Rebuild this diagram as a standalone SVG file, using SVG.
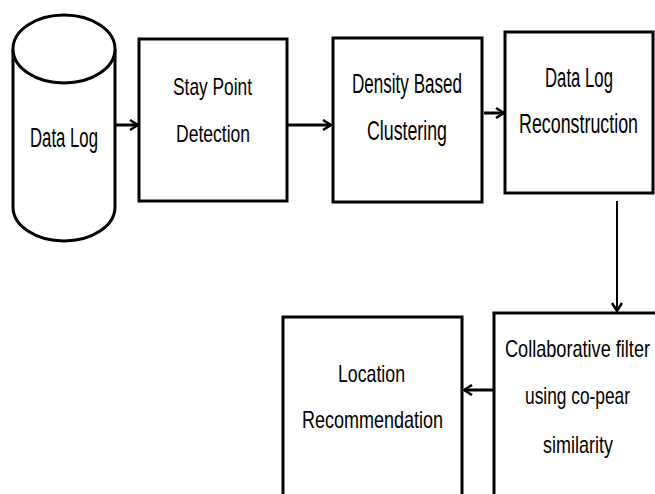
<svg xmlns="http://www.w3.org/2000/svg" width="655" height="494" viewBox="0 0 655 494">
<style>
.box{fill:#fff;stroke:#000;stroke-width:3}
.t{font-family:"Liberation Sans",Arial,sans-serif;font-size:18px;fill:#000;text-anchor:middle}
.c{fill:none;stroke:#000;stroke-width:3}
</style>
<defs>
<marker id="ah" viewBox="0 0 10 12" refX="9" refY="6" markerWidth="10" markerHeight="12" markerUnits="userSpaceOnUse" orient="auto">
<path d="M1,1 L9,6 L1,11" fill="none" stroke="#000" stroke-width="2.5"/>
</marker>
</defs>
<rect width="655" height="494" fill="#fff"/>
<g id="datalog">
<path class="box" d="M13,49 L13,207 A51,34 0 0 0 115,207 L115,49"/>
<ellipse class="box" cx="64" cy="49" rx="51" ry="34"/>
<text class="t" transform="translate(64,147) scale(1,1.52)" textLength="68" lengthAdjust="spacingAndGlyphs">Data Log</text>
</g>
<g id="staypoint">
<rect class="box" x="139" y="39" width="148" height="162"/>
<text class="t" transform="translate(212.5,95) scale(1,1.3)" textLength="79" lengthAdjust="spacingAndGlyphs">Stay Point</text>
<text class="t" transform="translate(213,142) scale(1,1.3)" textLength="74" lengthAdjust="spacingAndGlyphs">Detection</text>
</g>
<g id="density">
<rect class="box" x="333" y="38" width="149" height="164"/>
<text class="t" transform="translate(407,93) scale(1,1.52)" textLength="110" lengthAdjust="spacingAndGlyphs">Density Based</text>
<text class="t" transform="translate(407,140) scale(1,1.52)" textLength="80" lengthAdjust="spacingAndGlyphs">Clustering</text>
</g>
<g id="reconstruction">
<rect class="box" x="505" y="32" width="148" height="161"/>
<text class="t" transform="translate(579,87) scale(1,1.52)" textLength="68" lengthAdjust="spacingAndGlyphs">Data Log</text>
<text class="t" transform="translate(578.5,133) scale(1,1.52)" textLength="119" lengthAdjust="spacingAndGlyphs">Reconstruction</text>
</g>
<g id="collaborative">
<rect class="box" x="494" y="313" width="170" height="190"/>
<text class="t" transform="translate(577.5,357) scale(1,1.3)" textLength="145" lengthAdjust="spacingAndGlyphs">Collaborative filter</text>
<text class="t" transform="translate(577.5,404) scale(1,1.3)" textLength="105" lengthAdjust="spacingAndGlyphs">using co-pear</text>
<text class="t" transform="translate(578,453) scale(1,1.3)" textLength="70" lengthAdjust="spacingAndGlyphs">similarity</text>
</g>
<g id="location">
<rect class="box" x="283" y="317" width="179" height="190"/>
<text class="t" transform="translate(371.5,382) scale(1,1.3)" textLength="67" lengthAdjust="spacingAndGlyphs">Location</text>
<text class="t" transform="translate(372.5,428) scale(1,1.3)" textLength="141" lengthAdjust="spacingAndGlyphs">Recommendation</text>
</g>
<g id="connectors">
<line class="c" x1="115" y1="125" x2="138" y2="125" marker-end="url(#ah)"/>
<line class="c" x1="287" y1="125" x2="331" y2="125" marker-end="url(#ah)"/>
<line class="c" x1="484" y1="113" x2="504" y2="113" marker-end="url(#ah)"/>
<line class="c" x1="617" y1="201" x2="617" y2="311" style="stroke-width:2" marker-end="url(#ah)"/>
<line class="c" x1="494" y1="390" x2="464" y2="390" marker-end="url(#ah)"/>
</g>
</svg>
